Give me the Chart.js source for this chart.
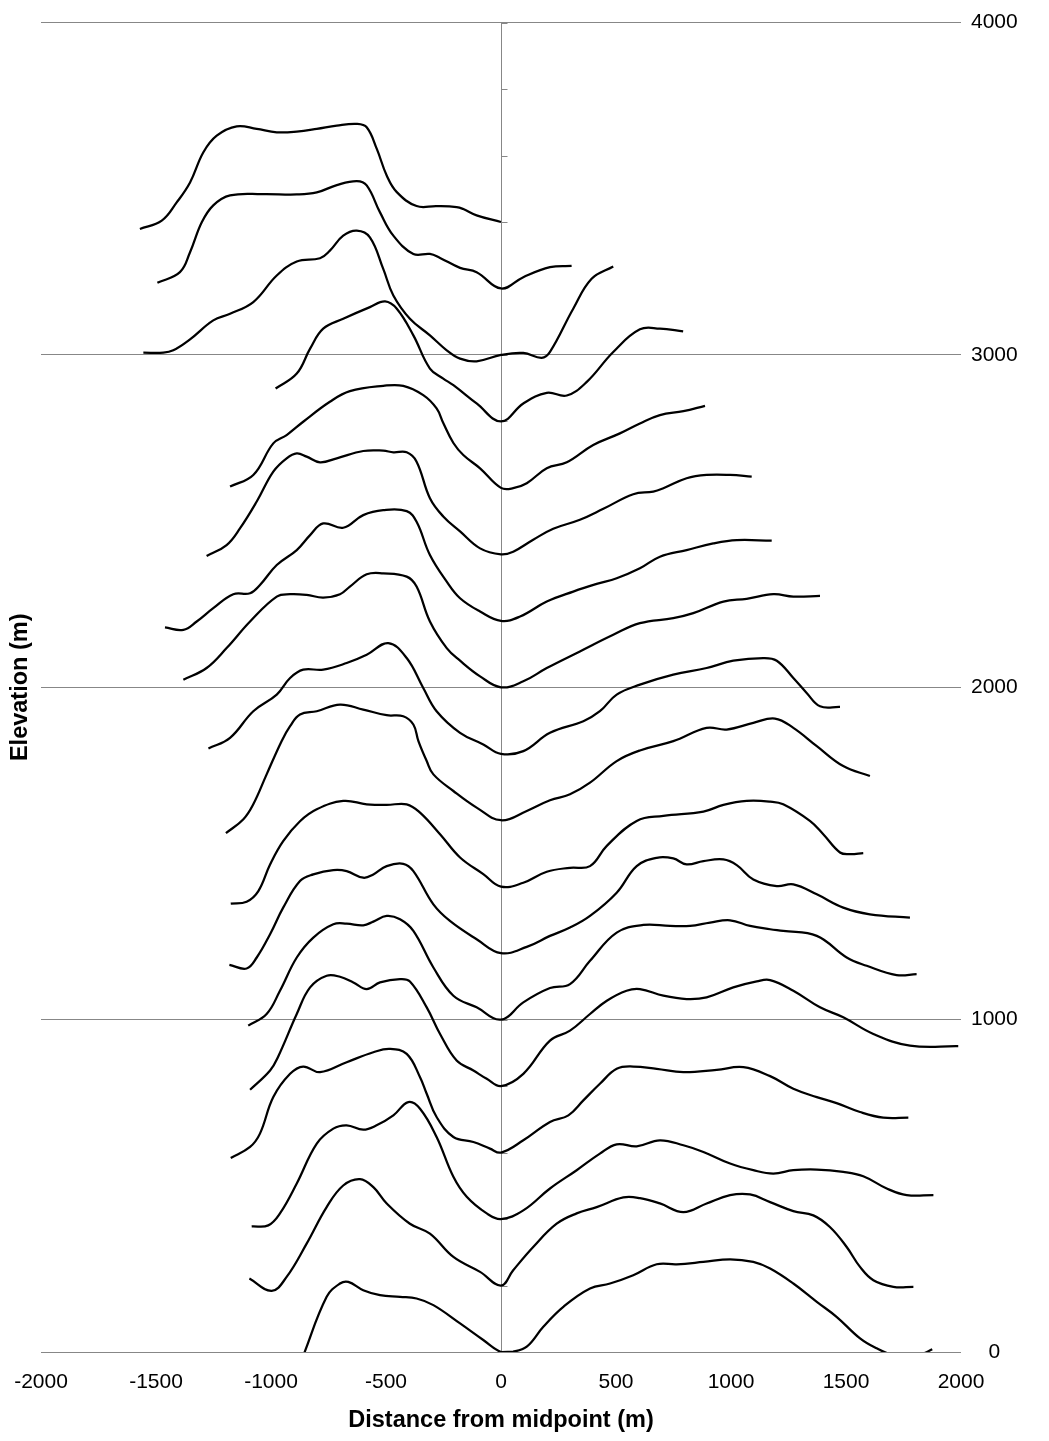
<!DOCTYPE html>
<html>
<head>
<meta charset="utf-8">
<script src="https://cdn.jsdelivr.net/npm/chart.js@4.4.1/dist/chart.umd.min.js"></script>
<style>
  html, body { margin: 0; padding: 0; background: #ffffff; }
  #wrap { width: 1049px; height: 1441px; }
</style>
</head>
<body>
<div id="wrap"><canvas id="profiles" width="1049" height="1441"></canvas></div>
<script>
// Stacked cross-section profiles: distance from midpoint (m) and elevation (m),
// each section offset by 200 m so that it passes through its own level at x = 0.
const dist3400 = [-1570,-1475,-1410,-1352,-1294,-1236,-1149,-1062,-975,-888,-801,-714,-627,-584,-540,-497,-453,-367,-280,-193,-164,-106,0];
const elev3400 = [3379,3404,3459,3519,3610,3660,3688,3680,3670,3672,3680,3690,3695,3685,3620,3540,3490,3448,3448,3445,3439,3420,3400];

const dist3200 = [-1494,-1396,-1352,-1301,-1251,-1178,-1033,-888,-801,-714,-627,-584,-526,-468,-381,-309,-265,-178,-106,0,97,213,307];
const elev3200 = [3217,3249,3309,3399,3450,3480,3484,3483,3489,3511,3523,3510,3429,3359,3304,3304,3292,3262,3249,3200,3234,3264,3268];

const dist3000 = [-1555,-1468,-1425,-1352,-1251,-1178,-1077,-975,-888,-787,-744,-686,-627,-570,-512,-468,-396,-309,-236,-178,-106,0,97,177,213,314,394,488];
const elev3000 = [3007,3007,3014,3047,3104,3124,3159,3239,3281,3291,3314,3359,3374,3354,3259,3179,3109,3059,3014,2989,2981,3000,3006,2991,3009,3139,3229,3266];

const dist2800 = [-980,-888,-830,-773,-686,-570,-504,-453,-381,-309,-251,-207,-106,0,97,199,286,373,488,604,691,792];
const elev2800 = [2899,2944,3019,3079,3109,3144,3161,3139,3059,2959,2929,2909,2854,2800,2854,2886,2878,2919,3009,3077,3079,3071];

const dist2600 = [-1178,-1077,-990,-932,-860,-744,-657,-512,-425,-338,-280,-251,-207,-164,-91,0,53,112,199,286,401,517,604,691,793,887];
const elev2600 = [2604,2639,2734,2759,2799,2859,2891,2907,2907,2879,2839,2795,2735,2699,2659,2600,2599,2614,2659,2677,2729,2764,2794,2819,2831,2847];

const dist2400 = [-1280,-1193,-1135,-1062,-990,-932,-888,-845,-787,-714,-599,-512,-468,-410,-367,-309,-251,-178,-91,0,53,140,227,343,445,575,662,706,807,894,996,1090];
const elev2400 = [2395,2428,2478,2559,2649,2689,2704,2694,2677,2689,2711,2712,2707,2707,2679,2569,2514,2469,2418,2400,2408,2444,2477,2504,2537,2581,2589,2599,2629,2639,2639,2634];

const dist2200 = [-1461,-1381,-1323,-1251,-1164,-1091,-1048,-975,-888,-830,-773,-686,-599,-512,-410,-367,-309,-236,-178,-91,0,83,199,314,416,503,604,691,807,923,1025,1177];
const elev2200 = [2180,2173,2198,2238,2280,2283,2308,2368,2413,2458,2493,2480,2518,2533,2530,2498,2398,2318,2268,2228,2200,2213,2258,2288,2311,2328,2358,2393,2413,2433,2443,2441];

const dist2000 = [-1381,-1280,-1193,-1091,-975,-917,-845,-773,-700,-657,-584,-512,-410,-367,-309,-236,-178,-91,0,97,199,343,488,604,749,836,967,1068,1184,1271,1387];
const elev2000 = [2023,2058,2118,2198,2273,2280,2278,2270,2280,2303,2340,2343,2333,2303,2198,2118,2080,2033,2000,2018,2058,2108,2158,2193,2208,2223,2258,2266,2280,2273,2275];

const dist1800 = [-1272,-1178,-1077,-975,-917,-860,-773,-671,-584,-490,-410,-338,-280,-178,-77,0,97,213,358,430,503,604,749,894,1010,1140,1199,1271,1329,1387,1474];
const elev1800 = [1816,1848,1928,1978,2028,2053,2053,2073,2098,2133,2088,1998,1928,1863,1828,1800,1808,1863,1898,1928,1978,2008,2038,2058,2080,2088,2080,2028,1983,1943,1941];

const dist1600 = [-1196,-1120,-1077,-1019,-954,-917,-874,-801,-700,-599,-497,-425,-381,-359,-323,-294,-207,-106,0,112,213,300,387,503,604,749,894,981,1097,1191,1271,1373,1488,1604];
const elev1600 = [1561,1603,1648,1738,1838,1883,1918,1928,1948,1933,1916,1913,1888,1838,1778,1738,1688,1638,1600,1628,1660,1678,1713,1778,1810,1838,1878,1873,1893,1906,1878,1823,1763,1733];

const dist1400 = [-1175,-1106,-1055,-1004,-947,-874,-801,-686,-584,-497,-410,-352,-265,-178,-77,0,97,199,300,387,460,590,706,880,967,1068,1170,1227,1343,1401,1474,1517,1575];
const elev1400 = [1349,1355,1387,1467,1537,1597,1633,1658,1648,1646,1648,1623,1558,1488,1438,1400,1412,1445,1457,1462,1523,1598,1613,1626,1646,1658,1656,1648,1598,1558,1503,1498,1501];

const dist1200 = [-1181,-1106,-1062,-1004,-947,-874,-816,-729,-671,-599,-555,-497,-425,-381,-294,-222,-106,0,112,213,300,387,503,590,677,749,807,880,967,1025,1097,1199,1271,1373,1488,1604,1778];
const elev1200 = [1165,1154,1187,1257,1337,1417,1437,1450,1447,1427,1437,1462,1469,1447,1347,1297,1242,1200,1219,1252,1277,1312,1382,1462,1487,1485,1467,1477,1482,1465,1422,1402,1407,1377,1337,1317,1307];

const dist1000 = [-1099,-1019,-961,-888,-816,-729,-671,-599,-555,-497,-439,-381,-294,-207,-106,0,97,213,300,387,503,619,735,822,909,996,1083,1170,1227,1373,1503,1590,1720,1807];
const elev1000 = [982,1017,1087,1187,1247,1287,1289,1284,1295,1312,1302,1267,1157,1072,1037,1000,1052,1095,1107,1177,1262,1285,1282,1282,1292,1299,1282,1272,1267,1252,1187,1162,1134,1137];

const dist800 = [-1091,-1004,-968,-888,-830,-758,-700,-642,-584,-526,-439,-396,-323,-265,-193,-120,-62,0,97,213,300,387,460,546,604,706,807,894,1010,1112,1170,1271,1387,1488,1619,1778,1988];
const elev800 = [789,847,890,1017,1097,1132,1129,1112,1092,1112,1122,1115,1037,957,877,847,822,800,837,937,967,1017,1057,1087,1092,1072,1062,1067,1097,1115,1119,1087,1037,1007,957,922,920];

const dist600 = [-1175,-1091,-1048,-990,-917,-860,-787,-671,-555,-483,-410,-352,-323,-280,-207,-120,-48,0,97,213,293,358,430,503,575,677,793,938,1054,1170,1271,1373,1459,1561,1662,1771];
const elev600 = [584,617,657,767,837,859,842,872,902,912,897,827,777,707,647,632,612,600,637,692,712,757,807,852,859,852,842,849,857,830,792,767,749,722,705,705];

const dist400 = [-1084,-1012,-961,-888,-801,-729,-671,-599,-541,-468,-403,-352,-280,-207,-149,-62,0,97,213,329,430,503,590,691,793,880,996,1097,1184,1271,1373,1488,1575,1677,1764,1880];
const elev400 = [378,381,417,507,627,672,682,669,682,712,752,732,647,527,467,417,400,426,492,547,597,625,619,637,622,602,567,547,537,547,549,542,529,492,472,472];

const dist200 = [-1094,-997,-932,-845,-758,-686,-613,-555,-497,-396,-309,-207,-91,0,53,140,242,329,416,532,604,691,793,894,996,1083,1170,1271,1358,1430,1503,1561,1619,1706,1793];
const elev200 = [221,184,226,326,436,501,520,496,447,386,356,286,241,200,246,316,386,417,436,465,463,447,421,447,472,474,451,424,411,376,316,256,216,196,196];

const dist0 = [-862,-758,-700,-664,-599,-526,-439,-367,-294,-178,-77,0,53,112,184,271,387,474,575,677,764,880,996,1097,1170,1271,1373,1459,1561,1633,1700,1770,1830,1875];
const elev0 = [-15,166,206,211,186,171,166,161,141,86,36,0,1,16,76,136,191,206,231,264,264,271,279,271,251,206,151,106,41,11,-8,-12,-6,8];

// Axis settings
const xRange = [-2000, 2000];
const xStep = 500;
const yRange = [0, 4000];
const yStep = 1000;
const zeroAxisStep = 200;
const xTitle = 'Distance from midpoint (m)';
const yTitle = 'Elevation (m)';

const sections = [
  [dist3400, elev3400], [dist3200, elev3200], [dist3000, elev3000], [dist2800, elev2800],
  [dist2600, elev2600], [dist2400, elev2400], [dist2200, elev2200], [dist2000, elev2000],
  [dist1800, elev1800], [dist1600, elev1600], [dist1400, elev1400], [dist1200, elev1200],
  [dist1000, elev1000], [dist800, elev800], [dist600, elev600], [dist400, elev400],
  [dist200, elev200], [dist0, elev0]
];

const datasets = sections.map(([xs, ys]) => ({
  data: xs.map((x, i) => ({ x: x, y: ys[i] })),
  showLine: true,
  borderColor: '#000000',
  borderWidth: 2.25,
  pointRadius: 0,
  pointHoverRadius: 0,
  tension: 0.4,
  fill: false,
  xAxisID: 'x',
  yAxisID: 'y'
}));

const FONT = "'Liberation Sans', Arial, sans-serif";
const GRID = '#878787';
const plainNumber = (v) => String(v);

// Vertical axis line through x = 0 with small tick marks on its right side
const zeroAxis = {
  id: 'zeroAxis',
  beforeDatasetsDraw(chart) {
    const { ctx, scales } = chart;
    const xs = scales.x, ys = scales.y;
    const px = Math.round(xs.getPixelForValue(0)) + 0.5;
    ctx.save();
    ctx.strokeStyle = GRID;
    ctx.lineWidth = 1;
    ctx.beginPath();
    ctx.moveTo(px, ys.getPixelForValue(yRange[1]));
    ctx.lineTo(px, ys.getPixelForValue(yRange[0]));
    for (let v = yRange[0]; v <= yRange[1]; v += zeroAxisStep) {
      const py = Math.round(ys.getPixelForValue(v)) + 0.5;
      ctx.moveTo(px, py);
      ctx.lineTo(px + 6, py);
    }
    ctx.stroke();
    ctx.restore();
  }
};

new Chart(document.getElementById('profiles'), {
  type: 'scatter',
  data: { datasets },
  plugins: [zeroAxis],
  options: {
    responsive: false,
    animation: false,
    devicePixelRatio: 1,
    layout: { padding: { top: 20, left: 0, right: 0, bottom: 0 } },
    plugins: { legend: { display: false }, tooltip: { enabled: false } },
    scales: {
      x: {
        type: 'linear',
        position: 'bottom',
        min: xRange[0],
        max: xRange[1],
        ticks: { stepSize: xStep, color: '#000', font: { family: FONT, size: 21 }, padding: 18, maxRotation: 0, callback: plainNumber },
        grid: { display: false, drawTicks: false },
        border: { display: false },
        title: {
          display: true, text: xTitle, color: '#000',
          font: { family: FONT, size: 23.5, weight: 'bold' },
          padding: { top: 0, bottom: 6 }
        },
        afterFit(scale) { scale.height = 89; scale.paddingLeft = 0; scale.paddingRight = 0; }
      },
      y: {
        type: 'linear',
        position: 'right',
        min: yRange[0],
        max: yRange[1],
        ticks: { stepSize: yStep, color: '#000', font: { family: FONT, size: 21 }, padding: 10, crossAlign: 'center', callback: plainNumber },
        grid: { color: GRID, lineWidth: 1, drawTicks: false },
        border: { display: false },
        afterFit(scale) { scale.width = 88; }
      },
      yLabel: {
        axis: 'y',
        type: 'linear',
        position: 'left',
        ticks: { display: false },
        grid: { display: false, drawTicks: false },
        border: { display: false },
        title: {
          display: true, text: yTitle, color: '#000',
          font: { family: FONT, size: 23.5, weight: 'bold' },
          padding: { top: 6, bottom: 0 }
        },
        afterFit(scale) { scale.width = 41; }
      }
    }
  }
});
</script>
</body>
</html>
